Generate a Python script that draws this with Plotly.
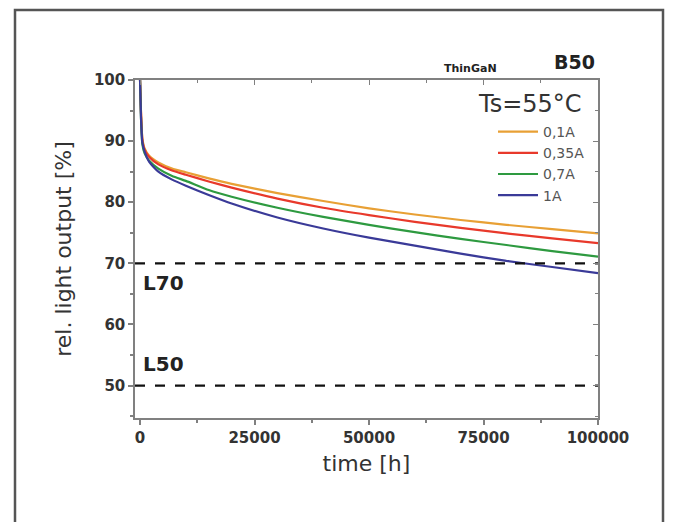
import plotly.graph_objects as go

time_h = [0, 200, 500, 1000, 2000, 4000, 7000, 10000, 15000, 20000, 30000,
          40000, 50000, 60000, 70000, 80000, 90000, 100000]

series_names = ["0,1A", "0,35A", "0,7A", "1A"]
series_colors = ["#E8A035", "#E8392B", "#2E9A40", "#3A3A98"]

out_01A = [100, 95.0, 90.5, 88.8, 87.6, 86.5, 85.5, 84.9, 83.9, 83.0, 81.5,
           80.2, 79.0, 78.0, 77.1, 76.3, 75.6, 74.9]
out_035A = [100, 95.0, 90.3, 88.6, 87.4, 86.2, 85.2, 84.5, 83.4, 82.4, 80.6,
            79.1, 77.9, 76.8, 75.8, 74.9, 74.1, 73.3]
out_07A = [100, 94.0, 89.5, 88.0, 86.8, 85.5, 84.3, 83.5, 82.0, 80.9, 79.1,
           77.6, 76.3, 75.1, 74.0, 73.0, 72.0, 71.1]
out_1A = [100, 94.0, 89.8, 88.3, 86.6, 85.0, 83.7, 82.7, 81.2, 79.8, 77.5,
          75.7, 74.2, 72.9, 71.6, 70.4, 69.4, 68.4]
series_values = [out_01A, out_035A, out_07A, out_1A]

x_ticks = [0, 25000, 50000, 75000, 100000]
y_ticks = [50, 60, 70, 80, 90, 100]
limit_levels = [70, 50]
limit_labels = ["L70", "L50"]

x_range = [-1100, 100000]
y_range = [44.7, 100]

# page offset (browser body margin)
OFF = 8
FIG_W, FIG_H = 678 - OFF, 522 - OFF
PL, PR, PT, PB = 135 - OFF, 598 - OFF, 80 - OFF, 418 - OFF   # plot area in figure px

fig = go.Figure()

for name, color, vals in zip(series_names, series_colors, series_values):
    fig.add_trace(go.Scatter(x=time_h, y=vals, mode="lines", name=name,
                             line=dict(color=color, width=2.2, shape="spline", smoothing=0.5)))

for lvl in limit_levels:
    fig.add_trace(go.Scatter(x=x_range, y=[lvl, lvl], mode="lines", showlegend=False,
                             line=dict(color="#111111", width=2.2, dash="10px,10px")))

# invisible trace for mirrored top/right axes
fig.add_trace(go.Scatter(x=x_range, y=y_range, xaxis="x2", yaxis="y2", mode="markers",
                         marker=dict(opacity=0), showlegend=False, hoverinfo="skip"))

tick_font = dict(family="DejaVu Sans", size=15, color="#333333", weight="bold")
axis_col = "#808080"

fig.update_layout(
    width=FIG_W, height=FIG_H,
    margin=dict(l=PL, r=FIG_W - PR, t=PT, b=FIG_H - PB, autoexpand=False),
    paper_bgcolor="white", plot_bgcolor="white",
    font=dict(family="DejaVu Sans", color="#333333"),
    xaxis=dict(range=x_range, tickvals=x_ticks, tickformat="d", showgrid=False, zeroline=False,
               showline=True, linecolor=axis_col, linewidth=1.5, ticks="outside", ticklen=5,
               tickcolor=axis_col, tickwidth=1.5, tickfont=tick_font,
               minor=dict(dtick=12500, tick0=0, ticks="outside", ticklen=3, tickcolor=axis_col),
               title=dict(text="time [h]", font=dict(size=22, color="#333333"), standoff=10)),
    yaxis=dict(range=y_range, tickvals=y_ticks, showgrid=False, zeroline=False,
               showline=True, linecolor=axis_col, linewidth=1.5, ticks="outside", ticklen=5,
               tickcolor=axis_col, tickwidth=1.5, tickfont=tick_font,
               minor=dict(dtick=5, tick0=0, ticks="outside", ticklen=3, tickcolor=axis_col),
               title=dict(text="rel. light output [%]", font=dict(size=22, color="#333333"), standoff=16)),
    xaxis2=dict(range=x_range, overlaying="x", side="top", showticklabels=False, showgrid=False,
                zeroline=False, showline=True, linecolor=axis_col, linewidth=1.5, ticks="inside",
                ticklen=5, tickcolor=axis_col, tickvals=x_ticks,
                minor=dict(dtick=12500, tick0=0, ticks="inside", ticklen=3, tickcolor=axis_col)),
    yaxis2=dict(range=y_range, overlaying="y", side="right", showticklabels=False, showgrid=False,
                zeroline=False, showline=True, linecolor=axis_col, linewidth=1.5, ticks="inside",
                ticklen=5, tickcolor=axis_col, tickvals=y_ticks,
                minor=dict(dtick=5, tick0=0, ticks="inside", ticklen=3, tickcolor=axis_col)),
    legend=dict(x=(493 - 135) / 463.0, y=(418 - 116) / 338.0, xanchor="left", yanchor="top",
                bgcolor="rgba(0,0,0,0)", font=dict(size=14, color="#555555"),
                itemwidth=40, tracegroupgap=0),
    showlegend=True,
)


def px2paper(px, py):
    """page pixel position -> paper coordinates"""
    return (px - 135) / 463.0, (418 - py) / 338.0


def add_text(text, px, py, font, xanchor="center"):
    x, y = px2paper(px, py)
    fig.add_annotation(text=text, x=x, y=y, xref="paper", yref="paper", showarrow=False,
                       xanchor=xanchor, yanchor="middle", font=font)


add_text("ThinGaN", 470, 68, dict(size=11, weight="bold", color="#222222"))
add_text("B50", 574, 62, dict(size=19, weight="bold", color="#222222"))
add_text("Ts=55°C", 530, 104, dict(size=24, color="#333333"))
for lbl, py in zip(limit_labels, [283, 364]):
    add_text(lbl, 141, py, dict(size=20, weight="bold", color="#222222"), xanchor="left")

# outer frame
fx0, fy0 = px2paper(15, 10)
fx1, fy1 = px2paper(663, 540)
fig.add_shape(type="rect", xref="paper", yref="paper", x0=fx0, y0=fy1, x1=fx1, y1=fy0,
              line=dict(color="#555555", width=2.5), layer="below")

fig.write_html("out.html")
